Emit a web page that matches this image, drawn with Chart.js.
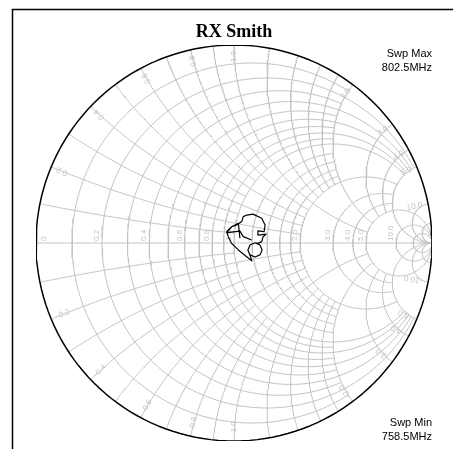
<!DOCTYPE html>
<html>
<head>
<meta charset="utf-8">
<script src="https://cdn.jsdelivr.net/npm/chart.js@4/dist/chart.umd.min.js"></script>
<style>
  html, body { margin: 0; padding: 0; background: #fff; }
  #wrap { width: 453px; height: 449px; }
</style>
</head>
<body>
<div id="wrap"><canvas id="smith" width="453" height="449"></canvas></div>
<script>
// grid: normalised resistance circles / reactance arcs and where each one stops
const resistanceValues = [0.1, 0.2, 0.3, 0.4, 0.5, 0.6, 0.7, 0.8, 0.9, 1.0, 1.2, 1.4, 1.6, 1.8, 2.0, 3.0, 4.0, 5.0, 10, 20]
const resistanceStops = [2, 5, 2, 5, 2, 5, 2, 5, 2, 5, 2, 2, 2, 2, 5, 5, 5, Infinity, Infinity, Infinity]
const reactanceValues = [0.1, 0.2, 0.3, 0.4, 0.5, 0.6, 0.7, 0.8, 0.9, 1.0, 1.2, 1.4, 1.6, 1.8, 2.0, 3.0, 4.0, 5.0, 10, 20]
const reactanceStops = [1, 2, 1, 2, 1, 2, 1, 2, 1, 5, 2, 2, 2, 2, 5, 5, 5, Infinity, Infinity, Infinity]

// tick labels
const resistanceLabels = ['0', '0.2', '0.4', '0.6', '0.8', '1.0', '2.0', '3.0', '4.0', '5.0', '10.0']
const reactanceLabels = ['0.2', '0.4', '0.6', '0.8', '1.0', '2.0', '3.0', '4.0', '5.0', '10.0']

const traceRe = [0.089, 0.047, 0.030, -0.037, -0.012, 0.014, 0.039, 0.047, 0.064, 0.096, 0.140, 0.157, 0.152, 0.121, 0.121, 0.162, 0.146, 0.140, 0.121, 0.106, 0.081, 0.070, 0.081, 0.106, 0.131, 0.142, 0.131, 0.106, 0.081, 0.070, 0.081, 0.090, 0.064, 0.022, -0.012, -0.029, -0.037, -0.012, 0.022, 0.030]
const traceIm = [0.015, 0.032, 0.060, 0.052, 0.082, 0.091, 0.108, 0.133, 0.141, 0.146, 0.125, 0.091, 0.057, 0.061, 0.040, 0.045, 0.030, 0.007, -0.002, 0.001, -0.010, -0.035, -0.060, -0.071, -0.060, -0.035, -0.010, 0.001, -0.010, -0.035, -0.062, -0.090, -0.069, -0.035, -0.002, 0.032, 0.057, 0.082, 0.099, 0.024]

const title = 'RX Smith'
const sweepMax = ['Swp Max', '802.5MHz']
const sweepMin = ['Swp Min', '758.5MHz']

const gridColor = '#c4c4c4'

function gamma(r, x) {
  const d = (r + 1) * (r + 1) + x * x
  return { x: (r * r - 1 + x * x) / d, y: (2 * x) / d }
}

function resistanceArc(r, stop) {
  const c = r / (r + 1)
  const rad = 1 / (r + 1)
  let a0 = 0
  if (stop !== Infinity) {
    const p = gamma(r, stop)
    a0 = Math.atan2(p.y, p.x - c)
  }
  const a1 = 2 * Math.PI - a0
  const pts = []
  for (let i = 0; i <= 160; i++) {
    const t = a0 + (a1 - a0) * i / 160
    pts.push({ x: c + rad * Math.cos(t), y: rad * Math.sin(t) })
  }
  return pts
}

function reactanceArc(x, stop) {
  const cy = 1 / x
  const rad = Math.abs(1 / x)
  const p0 = gamma(0, x)
  const p1 = stop === Infinity ? { x: 1, y: 0 } : gamma(stop, x)
  const a0 = Math.atan2(p0.y - cy, p0.x - 1)
  let d = Math.atan2(p1.y - cy, p1.x - 1) - a0
  while (d > Math.PI) d -= 2 * Math.PI
  while (d < -Math.PI) d += 2 * Math.PI
  const pts = []
  for (let i = 0; i <= 120; i++) {
    const t = a0 + d * i / 120
    pts.push({ x: 1 + rad * Math.cos(t), y: cy + rad * Math.sin(t) })
  }
  return pts
}

function line(data, color, width) {
  return {
    data,
    showLine: true,
    pointRadius: 0,
    borderColor: color,
    borderWidth: width,
    tension: 0,
    fill: false
  }
}

const datasets = []
datasets.push(line(traceRe.map((v, i) => ({ x: v, y: traceIm[i] })), '#000', 1.2))
datasets.push(line(resistanceArc(0, Infinity), '#000', 1.5))
resistanceValues.forEach((r, i) => datasets.push(line(resistanceArc(r, resistanceStops[i]), gridColor, 1)))
reactanceValues.forEach((x, i) => {
  datasets.push(line(reactanceArc(x, reactanceStops[i]), gridColor, 1))
  datasets.push(line(reactanceArc(-x, reactanceStops[i]), gridColor, 1))
})
datasets.push(line([{ x: -1, y: 0 }, { x: 1, y: 0 }], gridColor, 1))

const smithDecor = {
  id: 'smithDecor',
  beforeDraw(chart) {
    const ctx = chart.ctx
    ctx.save()
    ctx.fillStyle = '#fff'
    ctx.fillRect(0, 0, chart.width, chart.height)
    ctx.strokeStyle = '#000'
    ctx.lineWidth = 1.5
    ctx.beginPath()
    ctx.moveTo(12.5, chart.height)
    ctx.lineTo(12.5, 9.5)
    ctx.lineTo(chart.width, 9.5)
    ctx.stroke()
    ctx.restore()
  },
  beforeDatasetsDraw(chart) {
    const ctx = chart.ctx
    const sx = chart.scales.x
    const sy = chart.scales.y
    const cx = sx.getPixelForValue(0)
    const cy = sy.getPixelForValue(0)
    const R = sx.getPixelForValue(1) - cx
    ctx.save()
    ctx.fillStyle = '#c4c4c4'
    ctx.font = '8px "Liberation Sans", Arial, sans-serif'
    resistanceLabels.forEach(lbl => {
      const px = sx.getPixelForValue(gamma(parseFloat(lbl), 0).x)
      ctx.save()
      if (lbl === '0') {
        ctx.translate(px + 4, cy - 2)
        ctx.rotate(-Math.PI / 2)
        ctx.textBaseline = 'top'
      } else {
        ctx.translate(px - 1, cy - 2)
        ctx.rotate(-Math.PI / 2)
        ctx.textBaseline = 'bottom'
      }
      ctx.textAlign = 'left'
      ctx.fillText(lbl, 0, 0)
      ctx.restore()
    })
    reactanceLabels.forEach(lbl => {
      const v = parseFloat(lbl)
      ;[v, -v].forEach(xv => {
        const p = gamma(0, xv)
        const phi = Math.atan2(p.y, p.x)
        const rr = R - 6
        ctx.save()
        ctx.translate(cx + Math.cos(phi) * rr, cy - Math.sin(phi) * rr)
        ctx.textBaseline = 'middle'
        if (xv > 0) {
          ctx.rotate(-phi)
          ctx.textAlign = 'right'
          ctx.fillText(lbl, 0, 0)
        } else {
          ctx.rotate(-phi + Math.PI)
          ctx.textAlign = 'left'
          ctx.fillText('-' + lbl, 0, 0)
        }
        ctx.restore()
      })
    })
    ctx.restore()
  },
  afterDraw(chart) {
    const ctx = chart.ctx
    ctx.save()
    ctx.fillStyle = '#000'
    ctx.textAlign = 'center'
    ctx.textBaseline = 'middle'
    ctx.font = 'bold 18px "Liberation Serif", "Times New Roman", serif'
    ctx.fillText(title, 234, 32)
    ctx.font = '11px "Liberation Sans", Arial, sans-serif'
    ctx.textAlign = 'right'
    ctx.fillText(sweepMax[0], 432, 54)
    ctx.fillText(sweepMax[1], 432, 68)
    ctx.fillText(sweepMin[0], 432, 423)
    ctx.fillText(sweepMin[1], 432, 437)
    ctx.restore()
  }
}

new Chart(document.getElementById('smith'), {
  type: 'scatter',
  data: { datasets },
  options: {
    responsive: false,
    animation: false,
    devicePixelRatio: 1,
    layout: { padding: { left: 36, right: 21, top: 45, bottom: 8 } },
    scales: {
      x: { type: 'linear', min: -1, max: 1, display: false },
      y: { type: 'linear', min: -1, max: 1, display: false }
    },
    plugins: {
      legend: { display: false },
      tooltip: { enabled: false },
      title: { display: false }
    },
    elements: { line: { borderJoinStyle: 'round' } }
  },
  plugins: [smithDecor]
})
</script>
</body>
</html>
